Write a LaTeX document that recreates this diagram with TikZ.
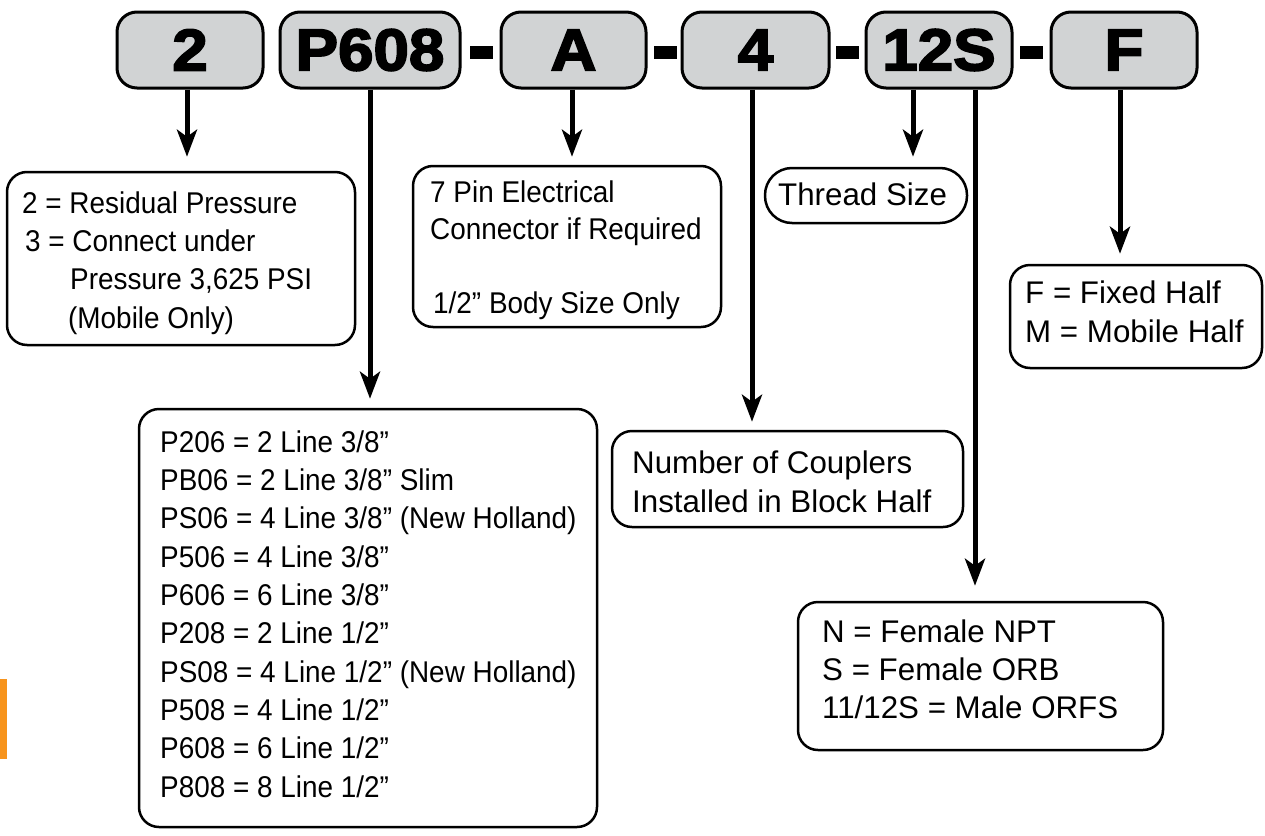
\documentclass[tikz,border=0pt]{standalone}
\usepackage{fontspec}
\setmainfont{Liberation Sans}
\newfontfamily\condfont[FakeStretch=0.93]{Liberation Sans}
\newfontfamily\codefont[FakeStretch=1.08,BoldFeatures={FakeBold=3}]{Liberation Sans}
\usetikzlibrary{arrows.meta}
\definecolor{codegray}{HTML}{D1D3D4}
\definecolor{taborange}{HTML}{F7941D}
\begin{document}
\begin{tikzpicture}[x=1pt,y=-1pt,
  codebox/.style={draw=black, line width=3pt, fill=codegray, rounded corners=20pt,
    minimum width=#1, minimum height=76pt, inner sep=0pt,
    font=\codefont\bfseries\fontsize{59}{59}\selectfont},
  dashbar/.style={fill=black, minimum width=23pt, minimum height=13pt, inner sep=0pt},
  descbox/.style={draw=black, line width=2.5pt, rounded corners=20pt, inner sep=0pt},
  condtext/.style={anchor=base west, align=left, inner sep=0pt,
    font=\condfont\fontsize{30}{38.3}\selectfont},
  normtext/.style={anchor=base west, align=left, inner sep=0pt,
    font=\fontsize{31.3}{38.5}\selectfont},
  arr/.style={line width=5pt, -{Stealth[length=27pt,width=20pt,inset=7pt]}}
]
\useasboundingbox (0,0) rectangle (1265,835);
\fill[taborange] (0,679) rectangle (7,759);

% code boxes
\node[codebox=146pt] (b1) at (190,50) {2};
\node[codebox=180pt] (b2) at (370,50) {P608};
\node[dashbar] (h1) at (481.5,52) {};
\node[codebox=145pt] (b3) at (573.5,50) {A};
\node[dashbar] (h2) at (665.5,52) {};
\node[codebox=147pt] (b4) at (755.5,50) {4};
\node[dashbar] (h3) at (847.5,52) {};
\node[codebox=146pt] (b5) at (939,50) {12S};
\node[dashbar] (h4) at (1031.5,52) {};
\node[codebox=146pt] (b6) at (1124,50) {F};

% description boxes (text nodes anchored at the baseline of their last line)
\node[descbox, minimum width=348pt, minimum height=173pt] (d1) at (181,258.5) {};
\node[condtext] (t1) at (22,328) {2 = Residual Pressure\\\hspace*{3pt}3 = Connect under\\\hspace*{48pt}Pressure 3,625 PSI\\\hspace*{46pt}(Mobile Only)};

\node[descbox, minimum width=308pt, minimum height=161pt] (d2) at (567,246.5) {};
\node[condtext, font=\condfont\fontsize{30}{37}\selectfont] (t2) at (430,313) {7 Pin Electrical\\Connector if Required\\[37pt]\hspace*{3pt}1/2” Body Size Only};

\node[descbox, minimum width=458pt, minimum height=418pt] (d3) at (368,618) {};
\node[condtext] (t3) at (160,797) {P206 = 2 Line 3/8”\\PB06 = 2 Line 3/8” Slim\\PS06 = 4 Line 3/8” (New Holland)\\P506 = 4 Line 3/8”\\P606 = 6 Line 3/8”\\P208 = 2 Line 1/2”\\PS08 = 4 Line 1/2” (New Holland)\\P508 = 4 Line 1/2”\\P608 = 6 Line 1/2”\\P808 = 8 Line 1/2”};

\node[descbox, minimum width=351pt, minimum height=96pt] (d4) at (787.5,479) {};
\node[normtext, font=\fontsize{31.3}{39}\selectfont] (t4) at (632,512) {Number of Couplers\\Installed in Block Half};

\node[descbox, rounded corners=27pt, minimum width=202pt, minimum height=55pt] (d5) at (866,195.5) {};
\node[normtext] (t5) at (778,205) {Thread Size};

\node[descbox, minimum width=365pt, minimum height=148pt] (d6) at (980.5,676) {};
\node[normtext, font=\fontsize{31.3}{38}\selectfont] (t6) at (822,718) {N = Female NPT\\S = Female ORB\\11/12S = Male ORFS};

\node[descbox, minimum width=252pt, minimum height=103pt] (d7) at (1136,316.5) {};
\node[normtext, font=\fontsize{31.3}{39}\selectfont] (t7) at (1025,342) {F = Fixed Half\\M = Mobile Half};

% connectors
\coordinate (s1) at ([xshift=-3pt]b1.south);
\coordinate (s2) at (b2.south);
\coordinate (s3) at ([xshift=-1.5pt]b3.south);
\coordinate (s4) at ([xshift=-3.5pt]b4.south);
\coordinate (s5) at ([xshift=-26pt]b5.south);
\coordinate (s6) at ([xshift=36pt]b5.south);
\coordinate (s7) at ([xshift=-4pt]b6.south);
\draw[arr, shorten >=14pt] (s1) -- (s1 |- d1.north);
\draw[arr, shorten >=9pt] (s2) -- (s2 |- d3.north);
\draw[arr, shorten >=8pt] (s3) -- (s3 |- d2.north);
\draw[arr, shorten >=8pt] (s4) -- (s4 |- d4.north);
\draw[arr, shorten >=10pt] (s5) -- (s5 |- d5.north);
\draw[arr, shorten >=15pt] (s6) -- (s6 |- d6.north);
\draw[arr, shorten >=10pt] (s7) -- (s7 |- d7.north);
\end{tikzpicture}
\end{document}
